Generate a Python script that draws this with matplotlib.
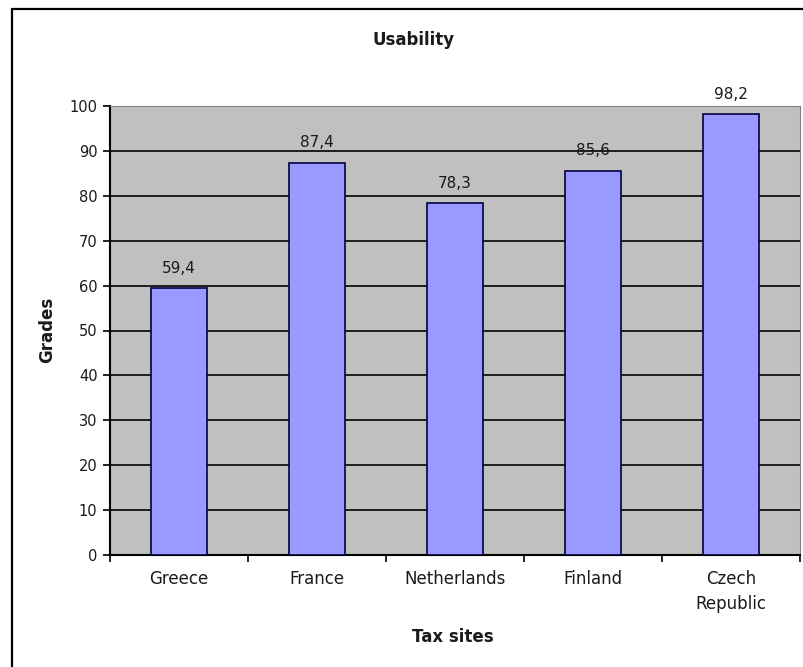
import matplotlib
matplotlib.use('Agg')
import matplotlib.pyplot as plt
from matplotlib.patches import Rectangle

countries = ['Greece', 'France', 'Netherlands', 'Finland', 'Czech\nRepublic']
grades = [59.4, 87.4, 78.3, 85.6, 98.2]
labels = ['59,4', '87,4', '78,3', '85,6', '98,2']

plt.rcParams['font.family'] = 'DejaVu Sans'
txt = '#1a1a1a'
fig = plt.figure(figsize=(8.04, 6.67), dpi=100)
ax = fig.add_axes([110/804, 1 - 555/667, 690/804, 449/667])

# outer chart frame (runs off the image right/bottom)
fig.patches.append(Rectangle((12/804, -0.05), 1.0, 1 - 9/667 + 0.05, transform=fig.transFigure,
                             fill=False, edgecolor='black', linewidth=1.6))

ax.set_facecolor('#c0c0c0')
xs = [i + 0.5 for i in range(len(countries))]
ax.bar(xs, grades, width=0.4, color='#9999ff', edgecolor='#000040', linewidth=1.2, zorder=3)
for x, g, t in zip(xs, grades, labels):
    ax.text(x, g + 4.4, t, ha='center', va='center', fontsize=11, color=txt)

ax.set_xlim(0, 5)
ax.set_ylim(0, 100)
ax.set_yticks(range(0, 101, 10))
ax.yaxis.grid(True, color='black', linewidth=1.2, zorder=1)
ax.set_axisbelow(True)
ax.set_xticks(range(0, 6))
ax.set_xticklabels([])
ax.set_xticks(xs, minor=True)
ax.set_xticklabels(countries, minor=True, fontsize=12, color=txt, linespacing=1.45)
ax.tick_params(axis='x', which='minor', length=0, pad=11)
ax.tick_params(axis='x', which='major', length=5, width=1.2)
ax.tick_params(axis='y', length=5, width=1.2, labelsize=10.5, labelcolor=txt, pad=4)
for s in ['top', 'right']:
    ax.spines[s].set_color('#808080')
for s in ['left', 'bottom']:
    ax.spines[s].set_linewidth(1.5)

fig.text(414/804, 1 - 40/667, 'Usability', ha='center', va='center',
         fontsize=12, fontweight='bold', color=txt)
fig.text(47/804, 1 - 330/667, 'Grades', rotation=90, ha='center', va='center',
         fontsize=12, fontweight='bold', color=txt)
fig.text(453/804, 1 - 637/667, 'Tax sites', ha='center', va='center',
         fontsize=12, fontweight='bold', color=txt)

fig.savefig('out.png', dpi=100)
